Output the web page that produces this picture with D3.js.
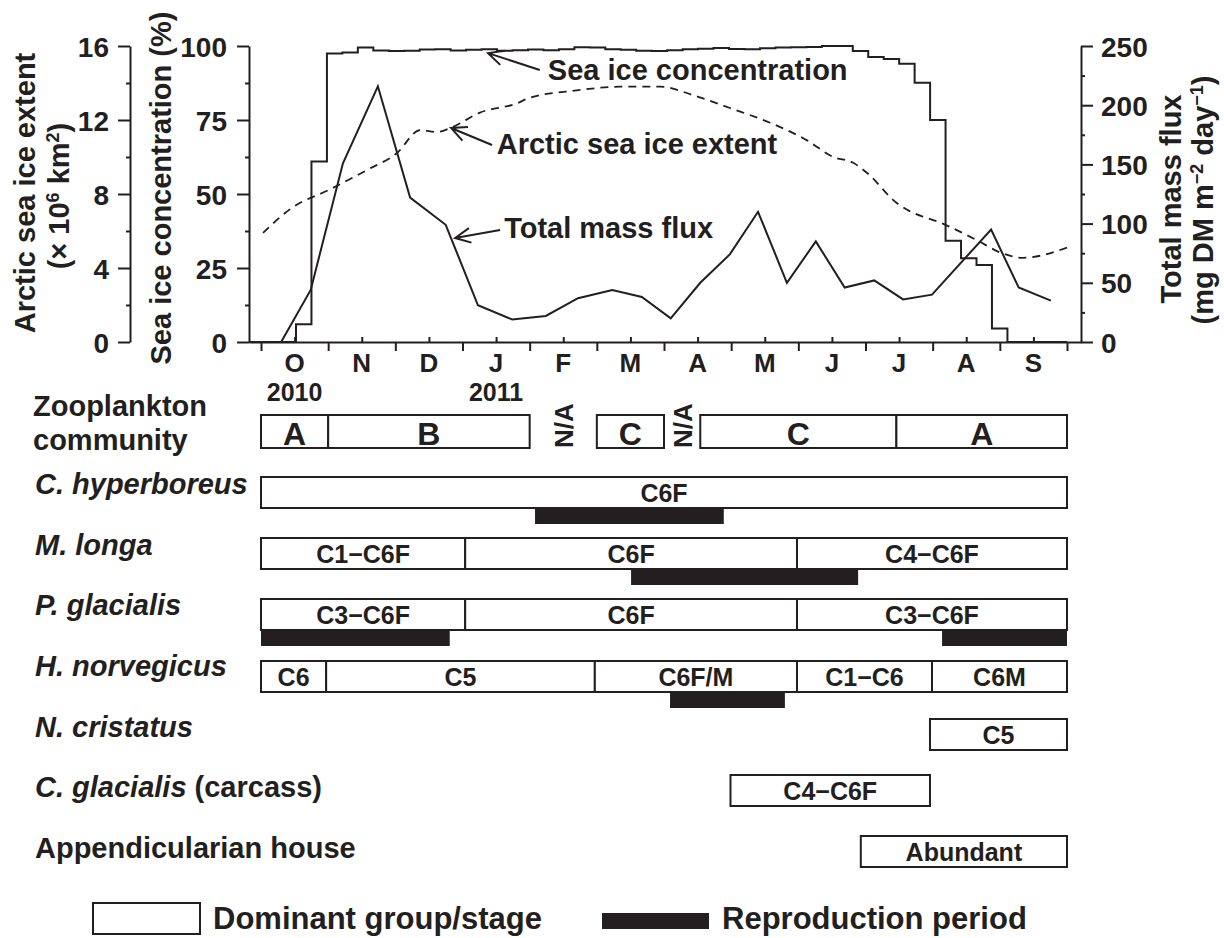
<!DOCTYPE html>
<html>
<head>
<meta charset="utf-8">
<script src="https://cdn.jsdelivr.net/npm/d3@7"></script>
<style>
  body { margin: 0; background: #fff; }
  svg text { font-family: 'Liberation Sans', Arial, Helvetica, sans-serif; font-weight: bold; fill: #231f20; }
</style>
</head>
<body>
<div id="chart"></div>
<script>
// time axis is in months counted from 1 Oct 2010 (0) to 1 Oct 2011 (12)
var monthLabels = ["O", "N", "D", "J", "F", "M", "A", "M", "J", "J", "A", "S"];
var yearLabels = ["2010", "2011"],
    yearMonths = [0.5, 3.5];

// Total mass flux (mg DM m-2 day-1), sediment trap samples
var fluxMonth = [0.30, 0.74, 1.22, 1.74, 2.22, 2.75, 3.23, 3.74, 4.24, 4.72, 5.23, 5.67, 6.10,
                 6.54, 6.98, 7.40, 7.83, 8.26, 8.69, 9.13, 9.56, 9.99, 10.87, 11.28, 11.76];
var fluxValue = [0, 44, 151, 216, 122, 99, 31, 19, 22, 37, 44, 38, 20,
                 50, 74, 110, 50, 85, 46, 52, 36, 40, 95, 46, 35];

// Arctic sea ice extent (x10^6 km2)
var extentMonth = [0.03, 0.48, 1.00, 1.58, 2.02, 2.37, 2.62, 2.84, 3.26, 3.81, 4.00, 4.70, 5.34, 5.94,
                   6.43, 6.98, 7.58, 8.13, 8.52, 8.81, 9.02, 9.47, 9.62, 10.15, 10.66, 11.00, 11.34, 12.00];
var extentValue = [5.9, 7.3, 8.2, 9.3, 10.2, 11.45, 11.35, 11.6, 12.4, 12.9, 13.2, 13.6, 13.8, 13.8,
                   13.35, 12.65, 11.85, 10.9, 10.0, 9.7, 9.15, 7.5, 7.15, 6.4, 5.5, 4.85, 4.55, 5.1];

// Sea ice concentration (%), weekly, first week starting mid October 2010
var concFirstWeek = 0.521,
    weekLength = 7 / 30.4;
var concWeekly = [6, 61, 97.5, 97.8, 99.5, 98.5, 98.3, 98.4, 98.8, 98.9, 98.5, 98.7, 98.9, 98.4, 98.6, 98.8,
                  98.6, 98.9, 99.6, 99.5, 98.9, 98.7, 98.4, 98.3, 98.6, 98.9, 99.1, 99.3, 99.0, 98.9, 99.2,
                  99.5, 99.6, 99.7, 100, 100, 98.3, 96.3, 95.6, 94, 87.6, 75, 34.2, 28.3, 26, 4.6, 0];

// Zooplankton community groups
var zooStart = [0, 1, 5, 6.54, 9.46],
    zooEnd = [1, 4, 6, 9.46, 12],
    zooGroup = ["A", "B", "C", "C", "A"];
var naMonths = [4.5, 6.27];

// species rows: dominant stages [start, end, label] and reproduction periods [start, end]
var speciesItalic = ["C. hyperboreus", "M. longa", "P. glacialis", "H. norvegicus", "N. cristatus", "C. glacialis", ""];
var speciesPlain = ["", "", "", "", "", " (carcass)", "Appendicularian house"];
var speciesStages = [
  [[0, 12, "C6F"]],
  [[0, 3.04, "C1\u2212C6F"], [3.04, 7.98, "C6F"], [7.98, 12, "C4\u2212C6F"]],
  [[0, 3.04, "C3\u2212C6F"], [3.04, 7.98, "C6F"], [7.98, 12, "C3\u2212C6F"]],
  [[0, 0.97, "C6"], [0.97, 4.97, "C5"], [4.97, 7.98, "C6F/M"], [7.98, 9.99, "C1\u2212C6"], [9.99, 12, "C6M"]],
  [[9.96, 12, "C5"]],
  [[6.99, 9.96, "C4\u2212C6F"]],
  [[8.93, 12, "Abundant"]]
];
var speciesRepro = [
  [[4.08, 6.89]],
  [[5.51, 8.89]],
  [[0, 2.81], [10.14, 12]],
  [[6.09, 7.8]],
  [], [], []
];

var legendLabels = ["Dominant group/stage", "Reproduction period"];

var ink = "#231f20";
var width = 1224, height = 938;

var svg = d3.select("#chart").append("svg")
    .attr("width", width)
    .attr("height", height);

svg.append("rect").attr("width", width).attr("height", height).attr("fill", "#fff");

// scales
var x = d3.scaleLinear().domain([0, 12]).range([261, 1067]);
var xFull = d3.scaleLinear().domain([x.invert(249), x.invert(1081)]).range([249, 1081]);
var yExt = d3.scaleLinear().domain([0, 16]).range([342, 46]);
var yConc = d3.scaleLinear().domain([0, 100]).range([342, 46]);
var yFlux = d3.scaleLinear().domain([0, 250]).range([342, 46]);

function styleAxis(g, fontSize) {
  g.selectAll("path, line").attr("stroke", ink).attr("stroke-width", 2);
  g.selectAll("text").attr("font-size", fontSize).attr("fill", ink)
    .attr("font-family", "'Liberation Sans', Arial, sans-serif").attr("font-weight", "bold");
}

// left axis: sea ice extent
var gExt = svg.append("g").attr("transform", "translate(130,0)")
    .call(d3.axisLeft(yExt).tickValues([0, 4, 8, 12, 16]).tickSize(12).tickPadding(9).tickSizeOuter(0));
styleAxis(gExt, "28px");
gExt.selectAll(".tick text").attr("dy", "0.36em");
svg.append("g").attr("transform", "translate(130,0)")
    .call(d3.axisLeft(yExt).tickValues([2, 6, 10, 14]).tickSize(4).tickFormat(""))
    .call(function(g) { g.select(".domain").remove(); styleAxis(g, "0px"); });

// second axis: sea ice concentration
var gConc = svg.append("g").attr("transform", "translate(249,0)")
    .call(d3.axisLeft(yConc).tickValues([0, 25, 50, 75, 100]).tickSize(12).tickPadding(10).tickSizeOuter(0));
styleAxis(gConc, "28px");
gConc.selectAll(".tick text").attr("dy", "0.36em");
svg.append("g").attr("transform", "translate(249,0)")
    .call(d3.axisLeft(yConc).tickValues([12.5, 37.5, 62.5, 87.5]).tickSize(4).tickFormat(""))
    .call(function(g) { g.select(".domain").remove(); styleAxis(g, "0px"); });

// right axis: total mass flux
var gFlux = svg.append("g").attr("transform", "translate(1081,0)")
    .call(d3.axisRight(yFlux).tickValues([0, 50, 100, 150, 200, 250]).tickSize(12).tickPadding(8).tickSizeOuter(0));
styleAxis(gFlux, "28px");
gFlux.selectAll(".tick text").attr("dy", "0.36em");
svg.append("g").attr("transform", "translate(1081,0)")
    .call(d3.axisRight(yFlux).tickValues([25, 75, 125, 175, 225]).tickSize(4).tickFormat(""))
    .call(function(g) { g.select(".domain").remove(); styleAxis(g, "0px"); });

// bottom time axis: month boundaries below, mid-month ticks above
var gX = svg.append("g").attr("transform", "translate(0,342)")
    .call(d3.axisBottom(xFull).tickValues(d3.range(0, 13)).tickSize(9).tickFormat("").tickSizeOuter(0));
styleAxis(gX, "0px");
svg.append("g").attr("transform", "translate(0,342)")
    .call(d3.axisTop(xFull).tickValues(d3.range(0.5, 12, 1)).tickSize(5).tickFormat(""))
    .call(function(g) { g.select(".domain").remove(); styleAxis(g, "0px"); });

svg.append("g").selectAll("text")
    .data(monthLabels)
    .enter().append("text")
    .attr("x", function(d, i) { return x(i + 0.5); })
    .attr("y", 372)
    .attr("text-anchor", "middle")
    .attr("font-size", "26px")
    .text(function(d) { return d; });

svg.append("g").selectAll("text")
    .data(yearLabels)
    .enter().append("text")
    .attr("x", function(d, i) { return x(yearMonths[i]); })
    .attr("y", 401)
    .attr("text-anchor", "middle")
    .attr("font-size", "25px")
    .text(function(d) { return d; });

// axis titles
function vTitle(xPos, yMid, parts, size) {
  var t = svg.append("text")
      .attr("transform", "translate(" + xPos + "," + yMid + ") rotate(-90)")
      .attr("text-anchor", "middle")
      .attr("font-size", size);
  parts.forEach(function(p) {
    var ts = t.append("tspan").text(p[0]);
    if (p[1] === "sup") ts.attr("font-size", "18px").attr("baseline-shift", "super");
  });
}
vTitle(35, 193, [["Arctic sea ice extent"]], "29px");
vTitle(69, 196, [["(\u00d7 10"], ["6", "sup"], [" km"], ["2", "sup"], [")"]], "29px");
vTitle(171, 188, [["Sea ice concentration (%)"]], "29px");
vTitle(1181, 199, [["Total mass flux"]], "29px");
vTitle(1213, 200, [["(mg DM m"], ["\u22122", "sup"], [" day"], ["\u22121", "sup"], [")"]], "29px");

// series
var concPoints = [{ m: xFull.domain()[0], v: 0 }].concat(concWeekly.map(function(v, i) {
  return { m: concFirstWeek + i * weekLength, v: v };
}));
concPoints.push({ m: 12, v: 0 });

svg.append("path")
    .datum(concPoints)
    .attr("fill", "none")
    .attr("stroke", ink)
    .attr("stroke-width", 2)
    .attr("d", d3.line().curve(d3.curveStepAfter)
        .x(function(d) { return x(d.m); })
        .y(function(d) { return yConc(d.v); }));

svg.append("path")
    .datum(extentMonth.map(function(m, i) { return { m: m, v: extentValue[i] }; }))
    .attr("fill", "none")
    .attr("stroke", ink)
    .attr("stroke-width", 1.8)
    .attr("stroke-dasharray", "8,6")
    .attr("d", d3.line().curve(d3.curveMonotoneX)
        .x(function(d) { return x(d.m); })
        .y(function(d) { return yExt(d.v); }));

svg.append("path")
    .datum(fluxMonth.map(function(m, i) { return { m: m, v: fluxValue[i] }; }))
    .attr("fill", "none")
    .attr("stroke", ink)
    .attr("stroke-width", 2)
    .attr("d", d3.line()
        .x(function(d) { return x(d.m); })
        .y(function(d) { return yFlux(d.v); }));

// labels with open arrows pointing at each series
function arrow(x1, y1, x2, y2) {
  var a = Math.atan2(y2 - y1, x2 - x1), len = 17, spread = 0.45;
  var p = "M" + x1 + "," + y1 + "L" + x2 + "," + y2 +
    "M" + (x2 - len * Math.cos(a - spread)) + "," + (y2 - len * Math.sin(a - spread)) +
    "L" + x2 + "," + y2 +
    "L" + (x2 - len * Math.cos(a + spread)) + "," + (y2 - len * Math.sin(a + spread));
  svg.append("path").attr("d", p).attr("fill", "none").attr("stroke", ink).attr("stroke-width", 2);
}
var notes = [
  { text: "Sea ice concentration", y: yConc, tip: [3.38, 97.6], tail: [4.15, 91.9], at: [4.27, 88.5] },
  { text: "Arctic sea ice extent", y: yExt, tip: [2.83, 11.57], tail: [3.44, 10.65], at: [3.51, 10.16] },
  { text: "Total mass flux", y: yFlux, tip: [2.89, 87.8], tail: [3.56, 94.6], at: [3.62, 87.8] }
];
notes.forEach(function(n) {
  arrow(x(n.tail[0]), n.y(n.tail[1]), x(n.tip[0]), n.y(n.tip[1]));
  svg.append("text").attr("x", x(n.at[0])).attr("y", n.y(n.at[1]))
      .attr("font-size", "29px").text(n.text);
});

// ---- lower panel ----
// Zooplankton community
svg.append("text").attr("x", 33).attr("y", 416).attr("font-size", "29px").text("Zooplankton");
svg.append("text").attr("x", 33).attr("y", 450).attr("font-size", "29px").text("community");

var zooTop = 415, zooH = 33;
var zoo = svg.append("g").selectAll("g")
    .data(zooGroup)
    .enter().append("g");
zoo.append("rect")
    .attr("x", function(d, i) { return x(zooStart[i]); })
    .attr("y", zooTop)
    .attr("width", function(d, i) { return x(zooEnd[i]) - x(zooStart[i]); })
    .attr("height", zooH)
    .attr("fill", "#fff").attr("stroke", ink).attr("stroke-width", 2);
zoo.append("text")
    .attr("x", function(d, i) { return x((zooStart[i] + zooEnd[i]) / 2); })
    .attr("y", zooTop + zooH - 3)
    .attr("text-anchor", "middle")
    .attr("font-size", "32px")
    .text(function(d) { return d; });

svg.append("g").selectAll("text")
    .data(naMonths)
    .enter().append("text")
    .attr("transform", function(d) { return "translate(" + (x(d) + 10) + "," + (zooTop + zooH) + ") rotate(-90)"; })
    .attr("font-size", "26px")
    .text("N/A");

// species rows
var rowTop = d3.scaleOrdinal().domain(d3.range(7)).range([477, 538, 599, 661, 719, 775, 836]);
var labelY = d3.scaleLinear().domain([0, 6]).range([494, 858]);
var boxH = 31, barH = 16;

speciesItalic.forEach(function(name, r) {
  var t = svg.append("text").attr("x", 35).attr("y", labelY(r)).attr("font-size", "29px");
  if (name) t.append("tspan").attr("font-style", "italic").text(name);
  if (speciesPlain[r]) t.append("tspan").text(speciesPlain[r]);

  var top = rowTop(r);
  var g = svg.append("g");
  g.selectAll("rect.repro")
      .data(speciesRepro[r])
      .enter().append("rect")
      .attr("class", "repro")
      .attr("x", function(d) { return x(d[0]); })
      .attr("y", top + boxH)
      .attr("width", function(d) { return x(d[1]) - x(d[0]); })
      .attr("height", barH)
      .attr("fill", ink);
  g.selectAll("rect.stage")
      .data(speciesStages[r])
      .enter().append("rect")
      .attr("class", "stage")
      .attr("x", function(d) { return x(d[0]); })
      .attr("y", top)
      .attr("width", function(d) { return x(d[1]) - x(d[0]); })
      .attr("height", boxH)
      .attr("fill", "#fff").attr("stroke", ink).attr("stroke-width", 2);
  g.selectAll("text")
      .data(speciesStages[r])
      .enter().append("text")
      .attr("x", function(d) { return x((d[0] + d[1]) / 2); })
      .attr("y", top + boxH / 2 + 9)
      .attr("text-anchor", "middle")
      .attr("font-size", "25px")
      .text(function(d) { return d[2]; });
});

// legend
var legend = svg.append("g").selectAll("g")
    .data(legendLabels)
    .enter().append("g")
    .attr("transform", function(d, i) { return "translate(" + (i === 0 ? 93 : 602) + ",0)"; });
legend.append("rect")
    .attr("x", 0)
    .attr("y", function(d, i) { return i === 0 ? 903 : 913; })
    .attr("width", 107)
    .attr("height", function(d, i) { return i === 0 ? 31 : 16; })
    .attr("fill", function(d, i) { return i === 0 ? "#fff" : ink; })
    .attr("stroke", ink).attr("stroke-width", function(d, i) { return i === 0 ? 2 : 0; });
legend.append("text")
    .attr("x", 120)
    .attr("y", 929)
    .attr("font-size", "31px")
    .text(function(d) { return d; });
</script>
</body>
</html>
